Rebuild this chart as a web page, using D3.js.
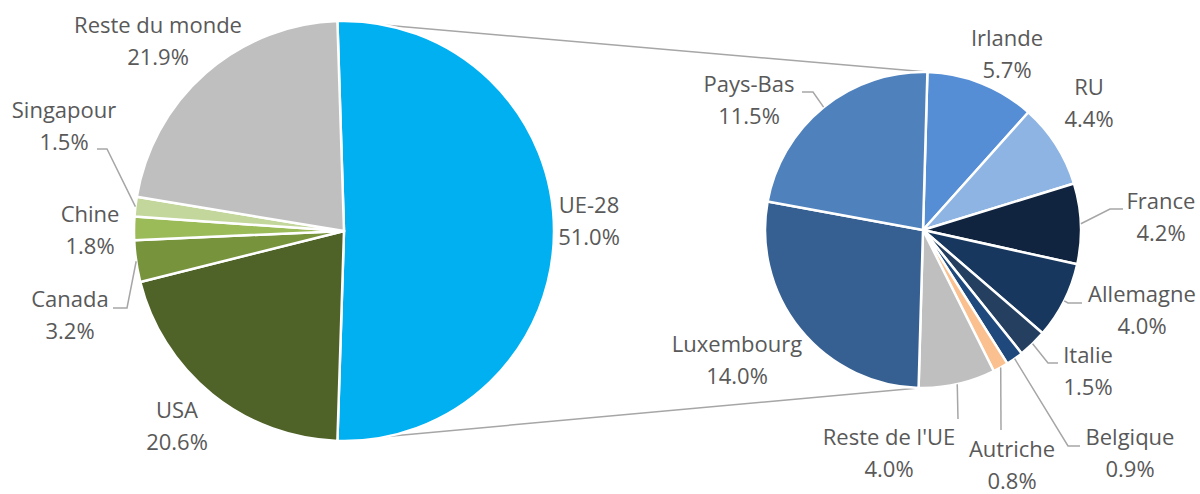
<!DOCTYPE html>
<html>
<head>
<meta charset="utf-8">
<script src="https://cdn.jsdelivr.net/npm/d3@7"></script>
<style>
  html, body { margin: 0; padding: 0; background: #fff; }
  text { font-family: "Open Sans", "Noto Sans", sans-serif; fill: #595959; }
</style>
</head>
<body>
<div id="chart"></div>
<script>
// primary pie: world
const worldNames = ["UE-28", "USA", "Canada", "Chine", "Singapour", "Reste du monde"];
const worldValues = [51.0, 20.6, 3.2, 1.8, 1.5, 21.9];
const worldColors = ["#00b0f0", "#4f6228", "#77933c", "#9bbb59", "#c3d69b", "#bfbfbf"];

// secondary pie: breakdown of UE-28
const euNames = ["Irlande", "RU", "France", "Allemagne", "Italie", "Belgique", "Autriche", "Reste de l'UE", "Luxembourg", "Pays-Bas"];
const euValues = [5.7, 4.4, 4.2, 4.0, 1.5, 0.9, 0.8, 4.0, 14.0, 11.5];
const euColors = ["#558ed5", "#8eb4e3", "#10243f", "#17375e", "#243f60", "#1f497d", "#fac090", "#bfbfbf", "#376092", "#4f81bd"];

// label placement: [center x, first baseline y]
const labelPos = {
  "UE-28": [589, 213], "USA": [177, 418], "Canada": [70, 307], "Chine": [90, 222],
  "Singapour": [64, 118], "Reste du monde": [158, 33],
  "Irlande": [1007, 46], "RU": [1089, 95], "France": [1161, 209], "Allemagne": [1142, 302],
  "Italie": [1088, 363], "Belgique": [1130, 445], "Autriche": [1012, 457],
  "Reste de l'UE": [889, 445], "Luxembourg": [737, 352], "Pays-Bas": [749, 92]
};
// leader lines: [start x, start y, elbow x]
const leaders = {
  "Singapour": [97, 149, 107], "Canada": [113, 308, 127],
  "Pays-Bas": [802, 92, 813], "France": [1123, 209, 1110], "Allemagne": [1082, 303, 1068],
  "Italie": [1058, 363, 1048], "Belgique": [1080, 446, 1068],
  "Autriche": [1001, 430, 1001], "Reste de l'UE": [958, 419, 958]
};

const width = 1200, height = 494;
const lineGap = 31.5;

const svg = d3.select("#chart").append("svg")
  .attr("width", width).attr("height", height)
  .attr("viewBox", [0, 0, width, height]);

const left = { cx: 344, cy: 231, r: 210 };
const right = { cx: 923, cy: 230, r: 158 };

// first slice of the main pie is centred on 3 o'clock
const worldTotal = d3.sum(worldValues);
const a0 = Math.PI / 2 - (worldValues[0] / worldTotal) * Math.PI;
const b0 = 1.6 * Math.PI / 180;

const worldArcs = d3.pie().sort(null).startAngle(a0).endAngle(a0 + 2 * Math.PI)(worldValues);
const euArcs = d3.pie().sort(null).startAngle(b0).endAngle(b0 + 2 * Math.PI)(euValues);

const pt = (p, a, r = p.r) => [p.cx + r * Math.sin(a), p.cy - r * Math.cos(a)];

// connector lines between the pies
const ue = worldArcs[0];
const conn = svg.append("g").attr("stroke", "#a6a6a6").attr("stroke-width", 1.5).attr("fill", "none");
conn.append("line")
  .attr("x1", pt(left, ue.startAngle)[0]).attr("y1", pt(left, ue.startAngle)[1])
  .attr("x2", pt(right, b0)[0]).attr("y2", pt(right, b0)[1]);
conn.append("line")
  .attr("x1", pt(left, ue.endAngle)[0]).attr("y1", pt(left, ue.endAngle)[1])
  .attr("x2", pt(right, b0 + Math.PI)[0]).attr("y2", pt(right, b0 + Math.PI)[1]);

function drawPie(p, arcs, names, colors) {
  const arc = d3.arc().innerRadius(0).outerRadius(p.r);
  const g = svg.append("g").attr("transform", `translate(${p.cx},${p.cy})`);
  g.selectAll("path").data(arcs).join("path")
    .attr("d", arc)
    .attr("fill", (d, i) => colors[i])
    .attr("stroke", "#fff")
    .attr("stroke-width", 2.5)
    .attr("stroke-linejoin", "round");

  // leader lines
  arcs.forEach((d, i) => {
    const l = leaders[names[i]];
    if (!l) return;
    const end = pt(p, (d.startAngle + d.endAngle) / 2);
    svg.append("path")
      .attr("d", d3.line()([[l[0], l[1]], [l[2], l[1]], end]))
      .attr("fill", "none")
      .attr("stroke", "#a6a6a6")
      .attr("stroke-width", 1.5);
  });

  // labels
  const total = d3.sum(worldValues);
  arcs.forEach((d, i) => {
    const [x, y] = labelPos[names[i]];
    const t = svg.append("text")
      .attr("x", x).attr("y", y)
      .attr("text-anchor", "middle")
      .attr("font-size", 22);
    t.append("tspan").attr("x", x).text(names[i]);
    t.append("tspan").attr("x", x).attr("dy", lineGap)
      .text(d3.format(".1%")(d.data / total));
  });
}

drawPie(left, worldArcs, worldNames, worldColors);
drawPie(right, euArcs, euNames, euColors);
</script>
</body>
</html>
